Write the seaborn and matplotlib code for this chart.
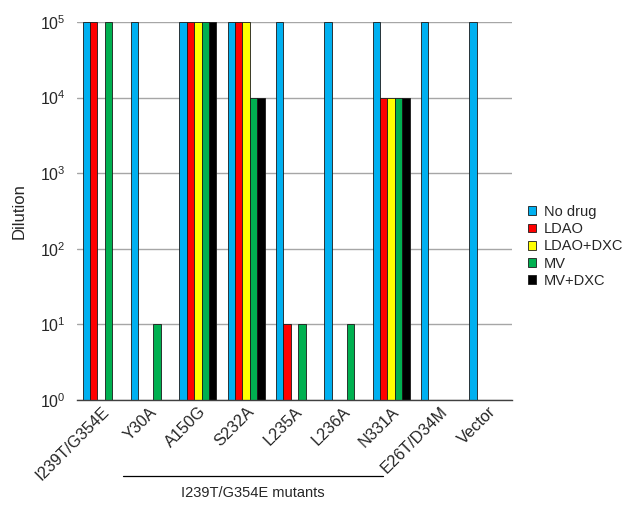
import numpy as np
import pandas as pd
import matplotlib
matplotlib.use("Agg")
import matplotlib.pyplot as plt
import matplotlib.transforms as mtransforms
from matplotlib.ticker import FixedLocator, NullFormatter, LogLocator
from matplotlib.patches import Patch
import seaborn as sns

strains = ["I239T/G354E", "Y30A", "A150G", "S232A", "L235A", "L236A",
           "N331A", "E26T/D34M", "Vector"]
conditions = ["No drug", "LDAO", "LDAO+DXC", "MV", "MV+DXC"]

nan = np.nan
no_drug = [1e5, 1e5, 1e5, 1e5, 1e5, 1e5, 1e5, 1e5, 1e5]
ldao = [1e5, nan, 1e5, 1e5, 10, nan, 1e4, nan, nan]
ldao_dxc = [nan, nan, 1e5, 1e5, nan, nan, 1e4, nan, nan]
mv = [1e5, 10, 1e5, 1e4, 10, 10, 1e4, nan, nan]
mv_dxc = [nan, nan, 1e5, 1e4, nan, nan, 1e4, nan, nan]

colors = ["#00B0F0", "#FF0000", "#FFFF00", "#00B050", "#000000"]

series = [no_drug, ldao, ldao_dxc, mv, mv_dxc]
rows = []
for cond, vals in zip(conditions, series):
    for s, v in zip(strains, vals):
        rows.append({"Strain": s, "Condition": cond, "Dilution": v})
df = pd.DataFrame(rows)

sns.set_style("white")
plt.rcParams["font.family"] = ["Liberation Sans", "DejaVu Sans"]

fig = plt.figure(figsize=(6.29, 5.08), dpi=100)
ax = fig.add_axes([0.1224, 0.2126, 0.6916, 0.7441])

sns.barplot(data=df, x="Strain", y="Dilution", hue="Condition",
            order=strains, hue_order=conditions, palette=colors,
            saturation=1, errorbar=None, width=0.77,
            edgecolor="#1a1a1a", linewidth=0.6,
            legend=False, ax=ax, zorder=3)

ax.set_yscale("log")
ax.set_ylim(1, 1e5)
ax.set_xlim(-0.5, len(strains) - 0.5)
ax.yaxis.set_major_locator(LogLocator(base=10, numticks=10))
ax.yaxis.set_minor_locator(FixedLocator([]))
ax.grid(axis="y", color="#a6a6a6", linewidth=1.0, zorder=0)
ax.set_axisbelow(True)

for side in ["top", "right", "left"]:
    ax.spines[side].set_visible(False)
ax.spines["bottom"].set_color("#404040")
ax.spines["bottom"].set_linewidth(1.0)
ax.spines["bottom"].set_zorder(4)

ax.tick_params(axis="y", which="major", length=0, labelsize=11.5, pad=8)
ax.tick_params(axis="x", which="major", length=0, labelsize=11.7, pad=3)
ax.set_xticks(range(len(strains)))
ax.set_xticklabels(strains, rotation=45, ha="right", rotation_mode="anchor")
ax.xaxis.set_minor_locator(FixedLocator(np.arange(-0.5, len(strains), 1.0)))
ax.xaxis.set_minor_formatter(NullFormatter())
ax.tick_params(axis="x", which="minor", length=5, width=1.0,
               color="#404040", direction="out")

ax.set_xlabel("")
ax.set_ylabel("Dilution", fontsize=12, labelpad=10)

handles = [Patch(facecolor=c, edgecolor="#1a1a1a", linewidth=0.6)
           for c in colors]
fig.legend(handles, conditions, loc="center left",
           bbox_to_anchor=(0.818, 0.515), frameon=False, fontsize=10.5,
           handlelength=0.55, handleheight=0.55, handletextpad=0.55,
           labelspacing=0.22)

# bracket under the mutant group
trans = mtransforms.blended_transform_factory(ax.transData, fig.transFigure)
ax.plot([0.45, 5.83], [0.063, 0.063], color="black", linewidth=0.9,
        transform=trans, clip_on=False)
ax.text(3.14, 0.03, "I239T/G354E mutants", transform=trans,
        ha="center", va="center", fontsize=10.5)

fig.savefig("out.png", dpi=100)
